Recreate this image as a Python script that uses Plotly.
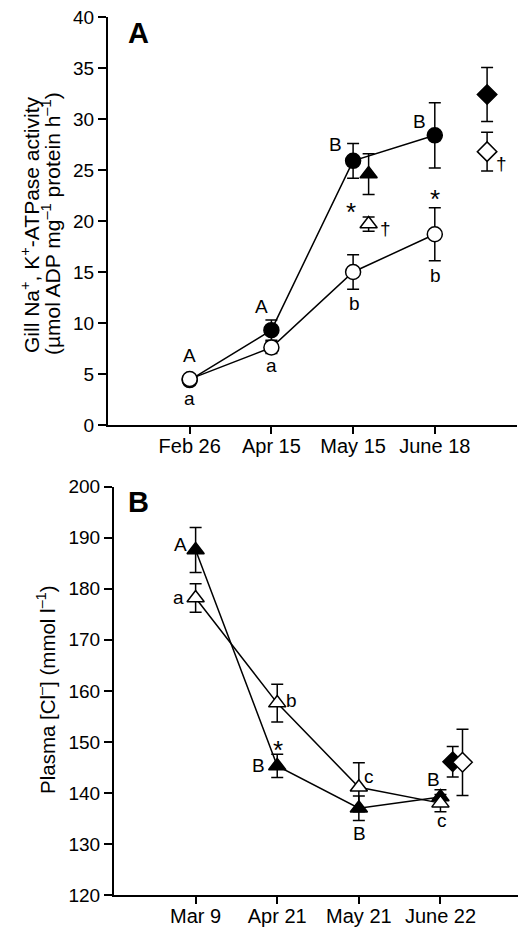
import plotly.graph_objects as go

# ---------- Panel A data ----------
a_dates = ["Feb 26", "Apr 15", "May 15", "June 18"]
a_pos = [1, 2, 3, 4]
a_filled_circ = [4.4, 9.3, 25.9, 28.4]
a_filled_circ_err = [0.3, 1.0, 1.7, 3.2]
a_open_circ = [4.5, 7.6, 15.0, 18.7]
a_open_circ_err = [0.3, 0.6, 1.7, 2.6]
a_tri_x = [3.19]
a_filled_tri = [24.6]
a_filled_tri_err = [2.0]
a_open_tri = [19.7]
a_open_tri_err = [0.7]
a_dia_x = [4.64]
a_filled_dia = [32.4]
a_filled_dia_err = [2.65]
a_open_dia = [26.8]
a_open_dia_err = [1.9]

# ---------- Panel B data ----------
b_dates = ["Mar 9", "Apr 21", "May 21", "June 22"]
b_pos = [1, 2, 3, 4]
b_filled_tri = [187.6, 145.3, 137.0, 139.2]
b_filled_tri_err = [4.4, 2.3, 2.4, 1.4]
b_open_tri = [178.2, 157.6, 141.1, 138.0]
b_open_tri_err = [2.8, 3.7, 4.8, 1.7]
b_filled_dia_x = [4.15]
b_filled_dia = [146.1]
b_filled_dia_err = [3.0]
b_open_dia_x = [4.27]
b_open_dia = [146.0]
b_open_dia_err = [6.5]

FONT = "Liberation Sans, Arial, Helvetica, sans-serif"
W, H = 518, 928

fig = go.Figure()


def add(x, y, err, symbol, filled, size, xa, ya, mode="lines+markers"):
    fig.add_trace(go.Scatter(
        x=x, y=y, mode=mode, xaxis=xa, yaxis=ya, showlegend=False,
        line=dict(color="black", width=1.5),
        marker=dict(symbol=symbol, size=size,
                    color="black" if filled else "white",
                    line=dict(color="black", width=1.5)),
        error_y=dict(type="data", array=err, color="black", thickness=1.5, width=6),
    ))


# Panel A
add(a_pos, a_filled_circ, a_filled_circ_err, "circle", True, 15, "x", "y")
add(a_pos, a_open_circ, a_open_circ_err, "circle", False, 15, "x", "y")
add(a_tri_x, a_filled_tri, a_filled_tri_err, "triangle-up", True, 15, "x", "y", "markers")
add(a_tri_x, a_open_tri, a_open_tri_err, "triangle-up", False, 15, "x", "y", "markers")
add(a_dia_x, a_filled_dia, a_filled_dia_err, "diamond", True, 15, "x", "y", "markers")
add(a_dia_x, a_open_dia, a_open_dia_err, "diamond", False, 15, "x", "y", "markers")

# Panel B
add(b_pos, b_filled_tri, b_filled_tri_err, "triangle-up", True, 15, "x2", "y2")
add(b_pos, b_open_tri, b_open_tri_err, "triangle-up", False, 15, "x2", "y2")
add(b_filled_dia_x, b_filled_dia, b_filled_dia_err, "diamond", True, 15, "x2", "y2", "markers")
add(b_open_dia_x, b_open_dia, b_open_dia_err, "diamond", False, 15, "x2", "y2", "markers")

axis_common = dict(showline=True, linecolor="black", linewidth=2, ticks="outside",
                   tickwidth=2, tickcolor="black", showgrid=False,
                   zeroline=False, automargin=False)
yfont = dict(family=FONT, size=19, color="black")
xfont = dict(family=FONT, size=20, color="black")

fig.update_layout(
    template="none",
    width=W, height=H, margin=dict(l=0, r=0, t=0, b=0, pad=0),
    paper_bgcolor="white", plot_bgcolor="white",
    font=dict(family=FONT, color="black"),
    xaxis=dict(domain=[108 / W, 516.5 / W], range=[0, 5], anchor="y", ticklen=7,
               ticklabelstandoff=-5,
               tickvals=a_pos, ticktext=a_dates, tickfont=xfont, **axis_common),
    yaxis=dict(domain=[(H - 425) / H, (H - 17) / H], range=[0, 40], anchor="x", ticklen=8,
               tickvals=[0, 5, 10, 15, 20, 25, 30, 35, 40], tickfont=yfont, **axis_common),
    xaxis2=dict(domain=[114 / W, 1.0], range=[0, 4.95], anchor="y2", ticklen=7,
                ticklabelstandoff=-5,
                tickvals=b_pos, ticktext=b_dates, tickfont=xfont, **axis_common),
    yaxis2=dict(domain=[(H - 895) / H, (H - 486.7) / H], range=[120, 200], anchor="x2",
                ticklen=8, tickvals=[120, 130, 140, 150, 160, 170, 180, 190, 200],
                tickfont=yfont, **axis_common),
)

ann = []


def label(text, x, y, xref, yref, size=19):
    ann.append(dict(text=text, x=x, y=y, xref=xref, yref=yref, showarrow=False,
                    xanchor="center", yanchor="middle",
                    font=dict(family=FONT, size=size, color="black")))


# Panel A labels
label("A", 1.0, 6.8, "x", "y")
label("a", 1.0, 2.6, "x", "y")
label("A", 1.88, 11.6, "x", "y")
label("a", 2.0, 5.8, "x", "y")
label("B", 2.79, 27.5, "x", "y")
label("B", 3.81, 29.8, "x", "y")
label("*", 2.98, 20.9, "x", "y", 26)
label("†", 3.40, 19.3, "x", "y")
label("*", 4.0, 22.2, "x", "y", 26)
label("b", 3.02, 11.9, "x", "y")
label("b", 4.01, 14.7, "x", "y")
label("†", 4.82, 25.6, "x", "y")

# Panel B labels
label("A", 0.82, 188.6, "x2", "y2")
label("a", 0.79, 178.3, "x2", "y2")
label("b", 2.18, 158.2, "x2", "y2")
label("*", 2.01, 148.5, "x2", "y2", 26)
label("B", 1.77, 145.3, "x2", "y2")
label("c", 3.12, 143.3, "x2", "y2")
label("B", 3.01, 132.0, "x2", "y2")
label("B", 3.91, 142.7, "x2", "y2")
label("c", 4.02, 134.6, "x2", "y2")

# Panel letters
ann.append(dict(text="<b>A</b>", x=138 / W, y=1 - 33 / H, xref="paper", yref="paper",
                showarrow=False, xanchor="center", yanchor="middle",
                font=dict(family=FONT, size=29, color="black")))
ann.append(dict(text="<b>B</b>", x=138 / W, y=1 - 501.7 / H, xref="paper", yref="paper",
                showarrow=False, xanchor="center", yanchor="middle",
                font=dict(family=FONT, size=29, color="black")))

# Y axis titles
ann.append(dict(text="Gill Na<sup>+</sup>, K<sup>+</sup>-ATPase activity",
                x=30 / W, y=1 - 225 / H, xref="paper", yref="paper", textangle=-90,
                showarrow=False, xanchor="center", yanchor="middle",
                font=dict(family=FONT, size=21, color="black")))
ann.append(dict(text="(µmol ADP mg<sup>–1</sup> protein h<sup>–1</sup>)",
                x=51 / W, y=1 - 224 / H, xref="paper", yref="paper", textangle=-90,
                showarrow=False, xanchor="center", yanchor="middle",
                font=dict(family=FONT, size=21, color="black")))
ann.append(dict(text="Plasma [Cl<sup>–</sup>] (mmol l<sup>–1</sup>)",
                x=46 / W, y=1 - 690 / H, xref="paper", yref="paper", textangle=-90,
                showarrow=False, xanchor="center", yanchor="middle",
                font=dict(family=FONT, size=20.5, color="black")))

fig.update_layout(annotations=ann)
fig.write_html(
    "out.html",
    config={"displayModeBar": False},
    post_script="document.body.style.margin='0';document.body.style.overflow='hidden';"
)
